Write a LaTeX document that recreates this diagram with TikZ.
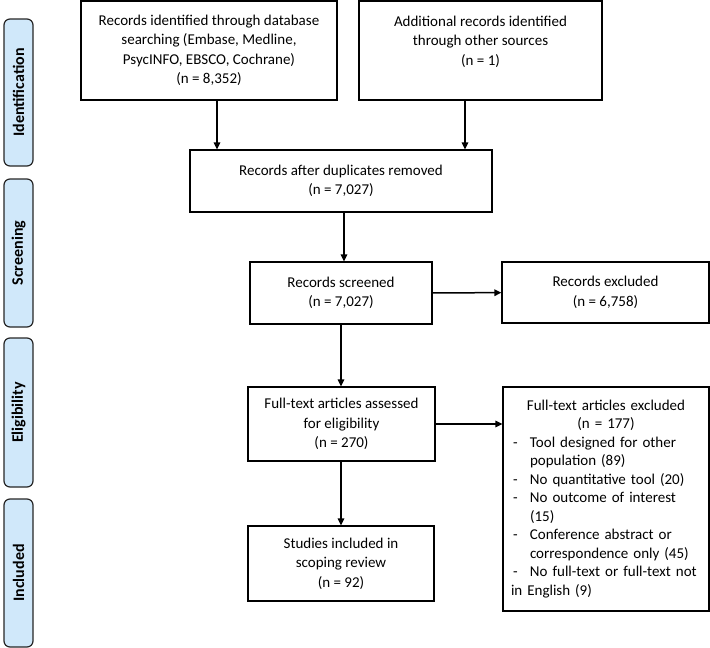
\documentclass[tikz,border=0pt]{standalone}
\usepackage{fontspec}
\setmainfont{Carlito}
\usetikzlibrary{arrows.meta}
\definecolor{sidefill}{RGB}{208,232,250}
\begin{document}
\begin{tikzpicture}[x=1pt,y=1pt,
  box/.style={draw=black,line width=1.2pt,align=center,inner sep=2pt,
    font=\fontsize{15}{19.5}\selectfont},
  side/.style={draw=black!85,fill=sidefill,line width=1.2pt,rounded corners=6pt,
    minimum width=29pt,inner sep=0pt,font=\fontsize{16}{18}\selectfont\bfseries},
  arr/.style={line width=1.5pt,-{Triangle[length=7pt,width=6.5pt]}}]
\useasboundingbox (0,0) rectangle (710,-648);
% side labels
\node[side,minimum height=147pt] (sid) at (18.5,-92.5) {\rotatebox{90}{Identification}};
\node[side,minimum height=148pt] (sscr) at (18.5,-253) {\rotatebox{90}{Screening}};
\node[side,minimum height=149pt] (selig) at (18.5,-412.5) {\rotatebox{90}{Eligibility}};
\node[side,minimum height=148pt] (sinc) at (18.5,-573) {\rotatebox{90}{Included}};
% boxes
\node[box,minimum width=256pt,minimum height=99pt] (db) at (209,-50.5)
  {Records identified through database\\searching (Embase, Medline,\\PsycINFO, EBSCO, Cochrane)\\(n = 8,352)};
\node[box,minimum width=243pt,minimum height=99pt] (other) at (480.5,-50.5)
  {Additional records identified\\through other sources\\(n = 1)\\\mbox{}};
\node[box,minimum width=302pt,minimum height=62pt] (dup) at (341,-181)
  {Records after duplicates removed\\(n = 7,027)};
\node[box,minimum width=182pt,minimum height=62pt] (scr) at (341,-293)
  {Records screened\\(n = 7,027)};
\node[box,minimum width=207pt,minimum height=61pt] (exc) at (605.5,-292.5)
  {Records excluded\\(n = 6,758)};
\node[box,minimum width=187pt,minimum height=74pt] (full) at (341.5,-424)
  {Full-text articles assessed\\for eligibility\\(n = 270)};
\node[box,minimum width=186pt,minimum height=75pt] (inc) at (341,-563.5)
  {Studies included in\\scoping review\\(n = 92)};
\node[box,font=\fontsize{15}{18.5}\selectfont,minimum width=206pt,minimum height=224pt,text width=190pt,align=left,inner xsep=8pt] (fexc) at (606,-499)
  {\hyphenpenalty=10000\exhyphenpenalty=10000
   {\centering Full-text articles excluded\\(n = 177)\par}%
   \hangindent=19pt\hangafter=1\noindent\makebox[19pt][l]{\hspace{2pt}-}Tool designed for other population (89)\par
   \hangindent=19pt\hangafter=1\noindent\makebox[19pt][l]{\hspace{2pt}-}No quantitative tool (20)\par
   \hangindent=19pt\hangafter=1\noindent\makebox[19pt][l]{\hspace{2pt}-}No outcome of interest\newline(15)\par
   \hangindent=19pt\hangafter=1\noindent\makebox[19pt][l]{\hspace{2pt}-}Conference abstract or correspondence only (45)\par
   \hangindent=19pt\hangafter=1\noindent\makebox[19pt][l]{\hspace{2pt}-}No full-text or full-text not in English (9)};
% arrows
\draw[arr] (db.south -| 217,0) -- (dup.north -| 217,0);
\draw[arr] (other.south -| 465,0) -- (dup.north -| 465,0);
\draw[arr] (dup.south -| 344,0) -- (scr.north -| 344,0);
\draw[arr] (scr) -- (exc);
\draw[arr] (scr.south) -- (full.north -| scr.south);
\draw[arr] (full.east) -- (fexc.west |- full.east);
\draw[arr] (full.south -| inc.north) -- (inc.north);
\end{tikzpicture}
\end{document}
